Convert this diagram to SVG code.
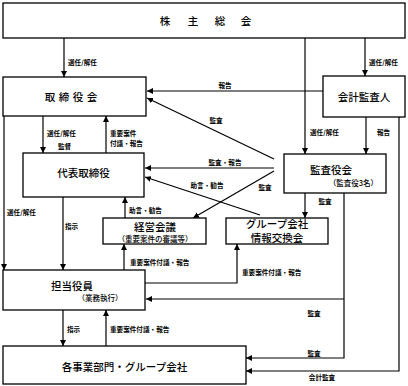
<svg xmlns="http://www.w3.org/2000/svg" width="408" height="386" viewBox="0 0 408 386">
<defs>
<marker id="ah" markerUnits="userSpaceOnUse" markerWidth="6" markerHeight="6" viewBox="0 0 6 6" refX="6" refY="3" orient="auto">
<path d="M0,0 L6,3 L0,6 Z" fill="#000"/>
</marker>
<style>
.box{fill:#fff;stroke:#000;stroke-width:1.3}
.ln{fill:none;stroke:#000;stroke-width:1.2}
.ar{fill:none;stroke:#000;stroke-width:1.2;marker-end:url(#ah)}
.nt{font-family:"Noto Sans CJK JP","Noto Sans CJK SC",sans-serif;font-size:10.5px;font-weight:500;text-anchor:middle;fill:#000}
.st{font-family:"Noto Sans CJK JP","Noto Sans CJK SC",sans-serif;font-size:7.5px;font-weight:500;fill:#000}
.lb{font-family:"Noto Sans CJK JP","Noto Sans CJK SC",sans-serif;font-size:6.6px;font-weight:bold;fill:#000}
.mid{text-anchor:middle}
</style>
</defs>
<rect width="408" height="386" fill="#fff"/>
<g id="connectors">
<line class="ar" x1="64" y1="38" x2="64" y2="77"/>
<line class="ar" x1="365" y1="38" x2="365" y2="76"/>
<line class="ar" x1="305" y1="38" x2="305" y2="154"/>
<line class="ar" x1="323" y1="91" x2="147" y2="91"/>
<line class="ar" x1="274" y1="159" x2="147" y2="98"/>
<line class="ar" x1="43" y1="116" x2="43" y2="153"/>
<line class="ar" x1="106" y1="153" x2="106" y2="116"/>
<line class="ar" x1="366" y1="117" x2="366" y2="154"/>
<line class="ar" x1="274" y1="168" x2="145" y2="168"/>
<line class="ar" x1="274" y1="171" x2="193" y2="218"/>
<line class="ar" x1="260" y1="215" x2="145" y2="177"/>
<line class="ar" x1="305" y1="193" x2="305" y2="218"/>
<line class="ar" x1="125" y1="218" x2="125" y2="197"/>
<line class="ar" x1="4" y1="116" x2="4" y2="270"/>
<line class="ar" x1="63" y1="197" x2="63" y2="270"/>
<line class="ar" x1="124" y1="270" x2="124" y2="244"/>
<path class="ar" d="M145,283 H237 V244"/>
<line class="ar" x1="344" y1="299" x2="146" y2="299"/>
<path class="ar" d="M344,193 V358 H246"/>
<path class="ar" d="M399,117 V371 H246"/>
<line class="ar" x1="63" y1="310" x2="63" y2="346"/>
<line class="ar" x1="106" y1="346" x2="106" y2="310"/>
<text class="lb" x="68" y="64.5">選任/解任</text>
<text class="lb" x="369" y="64.5">選任/解任</text>
<text class="lb mid" x="225" y="87.5">報告</text>
<text class="lb mid" x="216" y="122.5">監査</text>
<text class="lb" x="310" y="134.5">選任/解任</text>
<text class="lb" x="377" y="134.5">報告</text>
<text class="lb" x="47" y="135.5">選任/解任</text>
<text class="lb" x="58" y="148.5">監督</text>
<text class="lb" x="110" y="135.5">重要案件</text>
<text class="lb" x="110" y="145.5">付議・報告</text>
<text class="lb mid" x="225" y="164.5">監査・報告</text>
<text class="lb mid" x="207" y="187.5">助言・勧告</text>
<text class="lb mid" x="265" y="189.5">監査</text>
<text class="lb mid" x="325" y="203.5">監査</text>
<text class="lb" x="129" y="212.5">助言・勧告</text>
<text class="lb" x="7" y="214.5">選任/解任</text>
<text class="lb" x="65" y="229">指示</text>
<text class="lb" x="130" y="264.5">重要案件付議・報告</text>
<text class="lb" x="242" y="274.5">重要案件付議・報告</text>
<text class="lb mid" x="314" y="315.5">監査</text>
<text class="lb" x="67" y="332">指示</text>
<text class="lb" x="110" y="332">重要案件付議・報告</text>
<text class="lb mid" x="314" y="355.5">監査</text>
<text class="lb mid" x="322" y="379.5">会計監査</text>
</g>
<g id="shareholders">
<rect class="box" x="3" y="3" width="402" height="35"/>
<text class="nt" x="165 193 220 246" y="25" font-weight="bold">株主総会</text>
</g>
<g id="board">
<rect class="box" x="3" y="77" width="143" height="39"/>
<text class="nt" x="50 64 78 92" y="101" font-weight="bold">取締役会</text>
</g>
<g id="auditor">
<rect class="box" x="323" y="76" width="82" height="41"/>
<text class="nt" x="364" y="101">会計監査人</text>
</g>
<g id="president">
<rect class="box" x="23" y="153" width="121" height="44"/>
<text class="nt" x="83.5" y="177">代表取締役</text>
</g>
<g id="audit-board">
<rect class="box" x="284" y="154" width="102" height="39"/>
<text class="nt" x="331" y="174">監査役会</text>
<text class="st" x="378" y="186" text-anchor="end">（監査役3名）</text>
</g>
<g id="management-meeting">
<rect class="box" x="103" y="218" width="103" height="26"/>
<text class="nt" x="155" y="231">経営会議</text>
<text class="st mid" x="155" y="241.5">（重要案件の審議等）</text>
</g>
<g id="group-meeting">
<rect class="box" x="226" y="218" width="102" height="26"/>
<text class="nt" x="277" y="228" font-size="9.5px">グループ会社</text>
<text class="nt" x="277" y="241.5" font-size="9.5px">情報交換会</text>
</g>
<g id="officers">
<rect class="box" x="3" y="270" width="142" height="40"/>
<text class="nt" x="72" y="290">担当役員</text>
<text class="st mid" x="100" y="300.5">（業務執行）</text>
</g>
<g id="divisions">
<rect class="box" x="3" y="346" width="243" height="38"/>
<text class="nt" x="124.5" y="371">各事業部門・グループ会社</text>
</g>
</svg>
